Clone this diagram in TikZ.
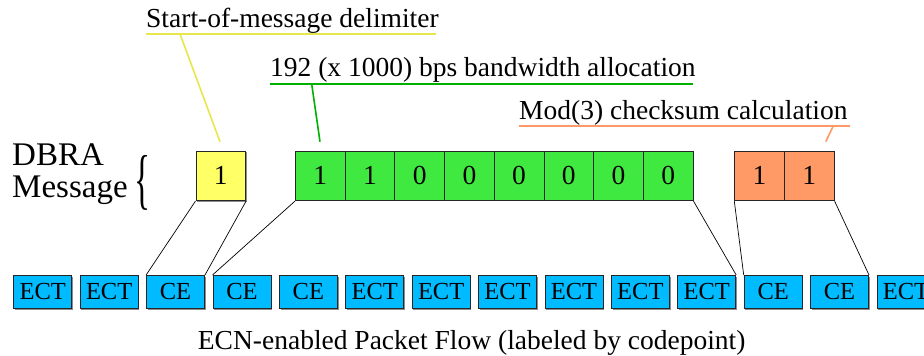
\documentclass[tikz,border=0pt]{standalone}
\usepackage{fontspec}
\setmainfont{Liberation Serif}
\usetikzlibrary{shadows}
\definecolor{yfill}{HTML}{FFFF66}
\definecolor{gfill}{HTML}{40E940}
\definecolor{ofill}{HTML}{FF9966}
\definecolor{bfill}{HTML}{00BBFF}
\definecolor{yline}{HTML}{E6E64D}
\definecolor{gline}{HTML}{00B000}
\definecolor{oline}{HTML}{FF9966}
\tikzset{
  cell/.style={draw=black!85, line width=0.9pt, minimum width=49.7pt, minimum height=49.7pt,
    inner sep=0pt, anchor=north west, font=\fontsize{27.5}{30}\selectfont},
  pkt/.style={draw=black!85, line width=0.9pt, fill=bfill, minimum width=58pt, minimum height=33pt,
    inner sep=0pt, anchor=north west, font=\fontsize{24.5}{26}\selectfont,
    drop shadow={shadow xshift=1.2pt, shadow yshift=-1.2pt, fill=black!45, opacity=1}},
  lbl/.style={anchor=base west, inner sep=0pt, font=\fontsize{27.5}{30}\selectfont},
  link/.style={line width=0.7pt, black},
  lead/.style={line width=1.6pt},
}
\begin{document}
\begin{tikzpicture}[x=1pt,y=-1pt]
\useasboundingbox (0,0) rectangle (924,356);
\begin{scope}
\clip (0,0) rectangle (924,356);
% packet flow
\foreach \i/\t in {0/ECT,1/ECT,2/CE,3/CE,4/CE,5/ECT,6/ECT,7/ECT,8/ECT,9/ECT,10/ECT,11/CE,12/CE,13/ECT}{
  \node[pkt] (p\i) at ({13.3+66.4*\i},275) {\t};
}
\end{scope}
% top cells
\node[cell, fill=yfill, drop shadow={shadow xshift=1pt, shadow yshift=-1pt, fill=black!45, opacity=1}] (y1) at (195.5,150.5) {1};
\foreach \i/\d in {1/1,2/1,3/0,4/0,5/0,6/0,7/0,8/0}{
  \node[cell, fill=gfill] (g\i) at ({295+49.7*(\i-1)},150.5) {\d};
}
\foreach \i/\d in {1/1,2/1}{
  \node[cell, fill=ofill] (o\i) at ({734.3+49.7*(\i-1)},150.5) {\d};
}
% connectors
\draw[link] (y1.south west) -- (p2.north west);
\draw[link] (y1.south east) -- (p2.north east);
\draw[link] (g1.south west) -- (p3.north west);
\draw[link] (g8.south east) -- (p10.north east);
\draw[link] (o1.south west) -- (p11.north west);
\draw[link] (o2.south east) -- (p12.north east);
% labels
\node[lbl] (ls) at (146,27.5) {Start-of-message delimiter};
\coordinate (ls1) at (146,34); \coordinate (ls2) at (436,34);
\coordinate (lsa) at (180,34); \coordinate (lsb) at (220,141.7);
\draw[lead, yline] (ls1) -- (ls2);
\draw[lead, yline] (lsa) -- (lsb);
\node[lbl] (lg) at (270,76) {192 (x 1000) bps bandwidth allocation};
\coordinate (lg1) at (270,84); \coordinate (lg2) at (692.5,84);
\coordinate (lga) at (311.7,84); \coordinate (lgb) at (320,141.7);
\draw[lead, gline] (lg1) -- (lg2);
\draw[lead, gline] (lga) -- (lgb);
\node[lbl] (lo) at (519,119) {Mod(3) checksum calculation};
\coordinate (lo1) at (519,126); \coordinate (lo2) at (850,126);
\coordinate (loa) at (833.3,126); \coordinate (lob) at (825.7,141.7);
\draw[lead, oline] (lo1) -- (lo2);
\draw[lead, oline] (loa) -- (lob);
% DBRA message
\node[anchor=base west, inner sep=0pt, font=\fontsize{33}{36}\selectfont] (d1) at (12,165) {DBRA};
\node[anchor=base west, inner sep=0pt, font=\fontsize{33}{36}\selectfont] (d2) at (12,197) {Message};
\node[anchor=north west, inner sep=0pt] (br) at (134,155) {\resizebox{16pt}{46pt}{\{}};
% bottom caption
\node[anchor=base, inner sep=0pt, font=\fontsize{27.5}{30}\selectfont] (cap) at (471.7,349) {ECN-enabled Packet Flow (labeled by codepoint)};
\end{tikzpicture}
\end{document}
